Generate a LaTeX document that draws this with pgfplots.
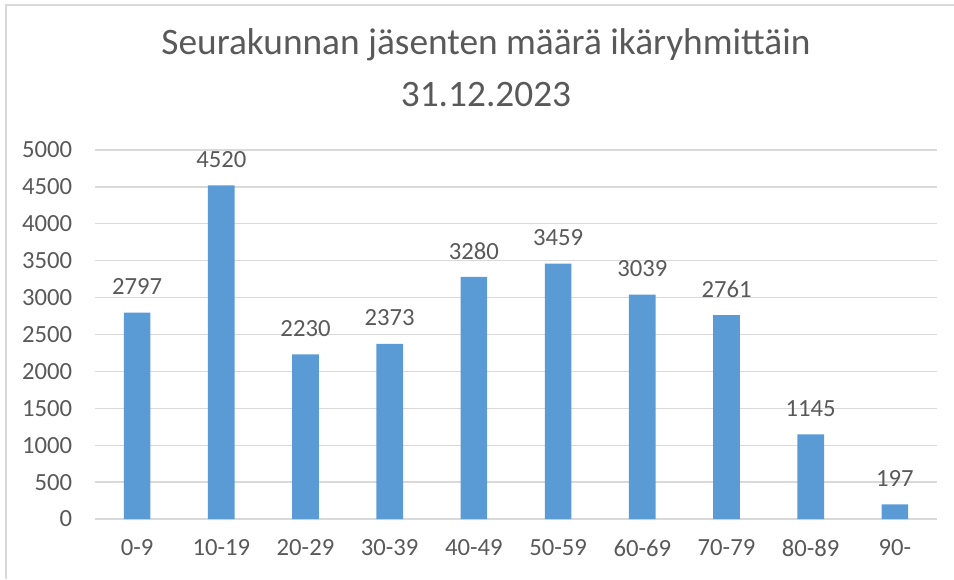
\documentclass[border=0pt]{standalone}
\usepackage{fontspec}
\setmainfont{Carlito}
\usepackage{pgfplots}
\pgfplotsset{compat=1.18}
\definecolor{palkki}{HTML}{5B9BD5}
\definecolor{ruudukko}{HTML}{D9D9D9}
\definecolor{teksti}{HTML}{595959}
\begin{document}
\begin{tikzpicture}
% kehys ja rajat (1px = 0.75pt, akselin vasen alakulma origossa)
\useasboundingbox (-71.25pt,-45pt) rectangle (644.25pt,389.25pt);
\draw[ruudukko, line width=1pt] (-66.75pt,-45pt) -- (-66.75pt,385.5pt) -- (644.25pt,385.5pt);
\begin{axis}[
  scale only axis, width=631.5pt, height=276.75pt,
  at={(0,0)}, anchor=south west,
  ybar, bar width=20pt,
  xmin=-0.5, xmax=9.5, ymin=0, ymax=5000,
  xtick=data,
  xticklabels={0-9,10-19,20-29,30-39,40-49,50-59,60-69,70-79,80-89,90-},
  ytick={0,500,...,5000},
  axis line style={draw=none},
  ymajorgrids, major grid style={ruudukko, line width=1pt},
  major tick length=0pt,
  /pgf/number format/assume math mode=true,
  /pgf/number format/1000 sep={},
  tick label style={font=\fontsize{18.5}{21}\selectfont, text=teksti},
  yticklabel style={anchor=east, inner sep=0pt, xshift=-17pt},
  xticklabel style={anchor=center, inner sep=0pt, yshift=-21.75pt},
  nodes near coords,
  every node near coord/.append style={font=\fontsize{18.5}{21}\selectfont, text=teksti, anchor=center, inner sep=0pt, yshift=19.5pt},
  title={Seurakunnan jäsenten määrä ikäryhmittäin\\31.12.2023},
  title style={at={(axis description cs:0.5,1)}, anchor=center, xshift=-22.5pt, yshift=55.5pt,
    align=center, font=\fontsize{28}{39}\selectfont, text=teksti},
]
\addplot[fill=palkki, draw=none] coordinates {
  (0,2797) (1,4520) (2,2230) (3,2373) (4,3280)
  (5,3459) (6,3039) (7,2761) (8,1145) (9,197)
};
\end{axis}
\end{tikzpicture}
\end{document}
